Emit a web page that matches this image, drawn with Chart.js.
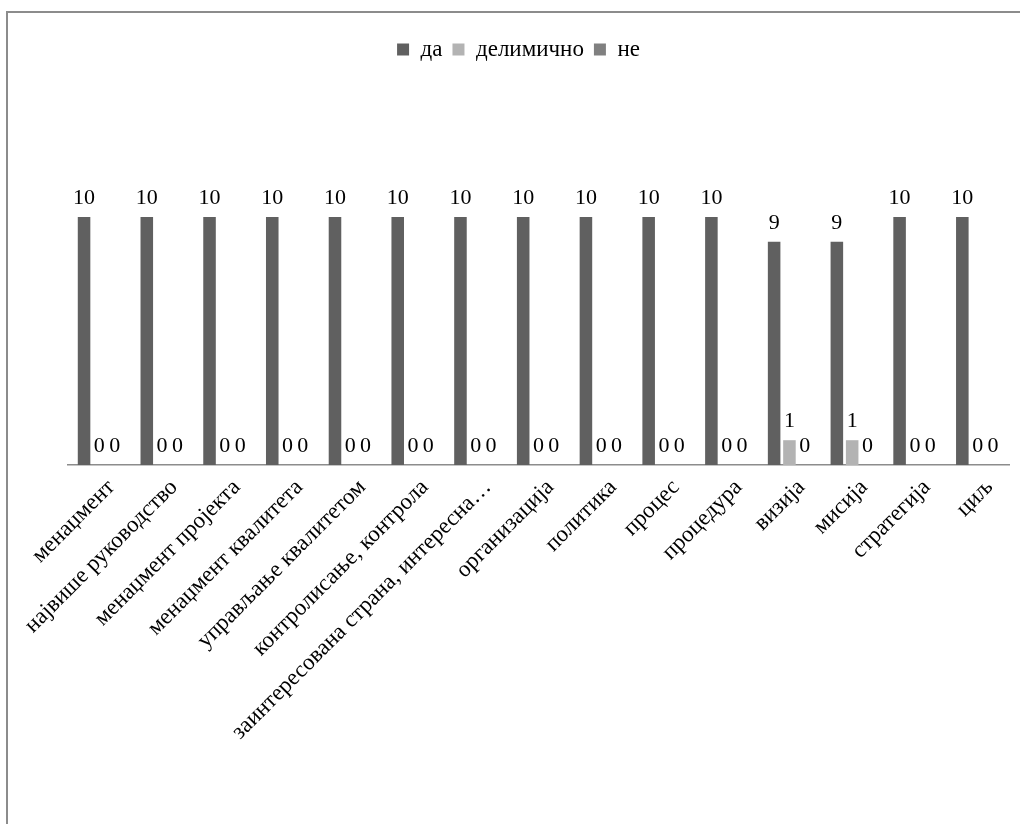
<!DOCTYPE html>
<html>
<head>
<meta charset="utf-8">
<script src="https://cdn.jsdelivr.net/npm/chart.js@4.4.1/dist/chart.umd.min.js"></script>
<style>
    body { margin: 0; background: #fff; }
    #frame {
        position: absolute; left: 6px; top: 11px; width: 1100px; height: 900px;
        border-left: 2px solid #8c8c8c; border-top: 2px solid #8c8c8c;
    }
    #chart { position: absolute; left: 0; top: 0; }
</style>
</head>
<body>
<div id="frame"></div>
<canvas id="chart" width="1020" height="824"></canvas>
<script>
const categories = [
    "менаџмент",
    "највише руководство",
    "менаџмент пројекта",
    "менаџмент квалитета",
    "управљање квалитетом",
    "контролисање, контрола",
    "заинтересована страна, интересна…",
    "организација",
    "политика",
    "процес",
    "процедура",
    "визија",
    "мисија",
    "стратегија",
    "циљ"
];
const da = [10, 10, 10, 10, 10, 10, 10, 10, 10, 10, 10, 9, 9, 10, 10];
const delimicno = [0, 0, 0, 0, 0, 0, 0, 0, 0, 0, 0, 1, 1, 0, 0];
const ne = [0, 0, 0, 0, 0, 0, 0, 0, 0, 0, 0, 0, 0, 0, 0];

Chart.defaults.font.family = "'Liberation Serif', 'Times New Roman', serif";
Chart.defaults.font.size = 23;
Chart.defaults.color = '#000';

// room between the legend and the top of the plot
const legendBlock = 189;

const legendSpace = {
    id: 'legendSpace',
    beforeLayout(chart) {
        const lg = chart.legend;
        if (!lg || lg._spaced) return;
        const fit = lg.fit;
        lg.fit = function() {
            fit.call(this);
            this.height = legendBlock;
        };
        lg._spaced = true;
    }
};

// value over each bar
const valueLabels = {
    id: 'valueLabels',
    afterDatasetsDraw(chart) {
        const ctx = chart.ctx;
        ctx.save();
        ctx.font = "22px 'Liberation Serif', 'Times New Roman', serif";
        ctx.fillStyle = '#000';
        ctx.textAlign = 'center';
        ctx.textBaseline = 'alphabetic';
        chart.data.datasets.forEach((ds, i) => {
            const meta = chart.getDatasetMeta(i);
            meta.data.forEach((bar, j) => {
                ctx.fillText(String(ds.data[j]), bar.x, bar.y - 13);
            });
        });
        ctx.restore();
    }
};

const ctx = document.getElementById('chart').getContext('2d');
const myChart = new Chart(ctx, {
    type: 'bar',
    data: {
        labels: categories,
        datasets: [
            { label: 'да', data: da, backgroundColor: '#606060' },
            { label: 'делимично', data: delimicno, backgroundColor: '#b3b3b3' },
            { label: 'не', data: ne, backgroundColor: '#808080' }
        ]
    },
    options: {
        responsive: false,
        animation: false,
        devicePixelRatio: 1,
        layout: { padding: { left: 28, right: 11, top: 28, bottom: 0 } },
        datasets: {
            bar: { categoryPercentage: 0.732, barPercentage: 0.82 }
        },
        plugins: {
            tooltip: { enabled: false },
            legend: {
                position: 'top',
                labels: { boxWidth: 12, boxHeight: 12, padding: 10 }
            }
        },
        scales: {
            x: {
                grid: { display: false, drawTicks: false },
                border: { color: '#8c8c8c', width: 1.5 },
                ticks: { minRotation: 45, maxRotation: 45, autoSkip: false, padding: 9, labelOffset: 12 },
                afterFit(scale) { scale.height = 359; }
            },
            y: {
                min: 0,
                max: 10,
                grid: { display: false, drawTicks: false },
                border: { display: false },
                ticks: { display: false },
                afterFit(scale) { scale.width = 40; }
            }
        }
    },
    plugins: [legendSpace, valueLabels]
});
</script>
</body>
</html>
